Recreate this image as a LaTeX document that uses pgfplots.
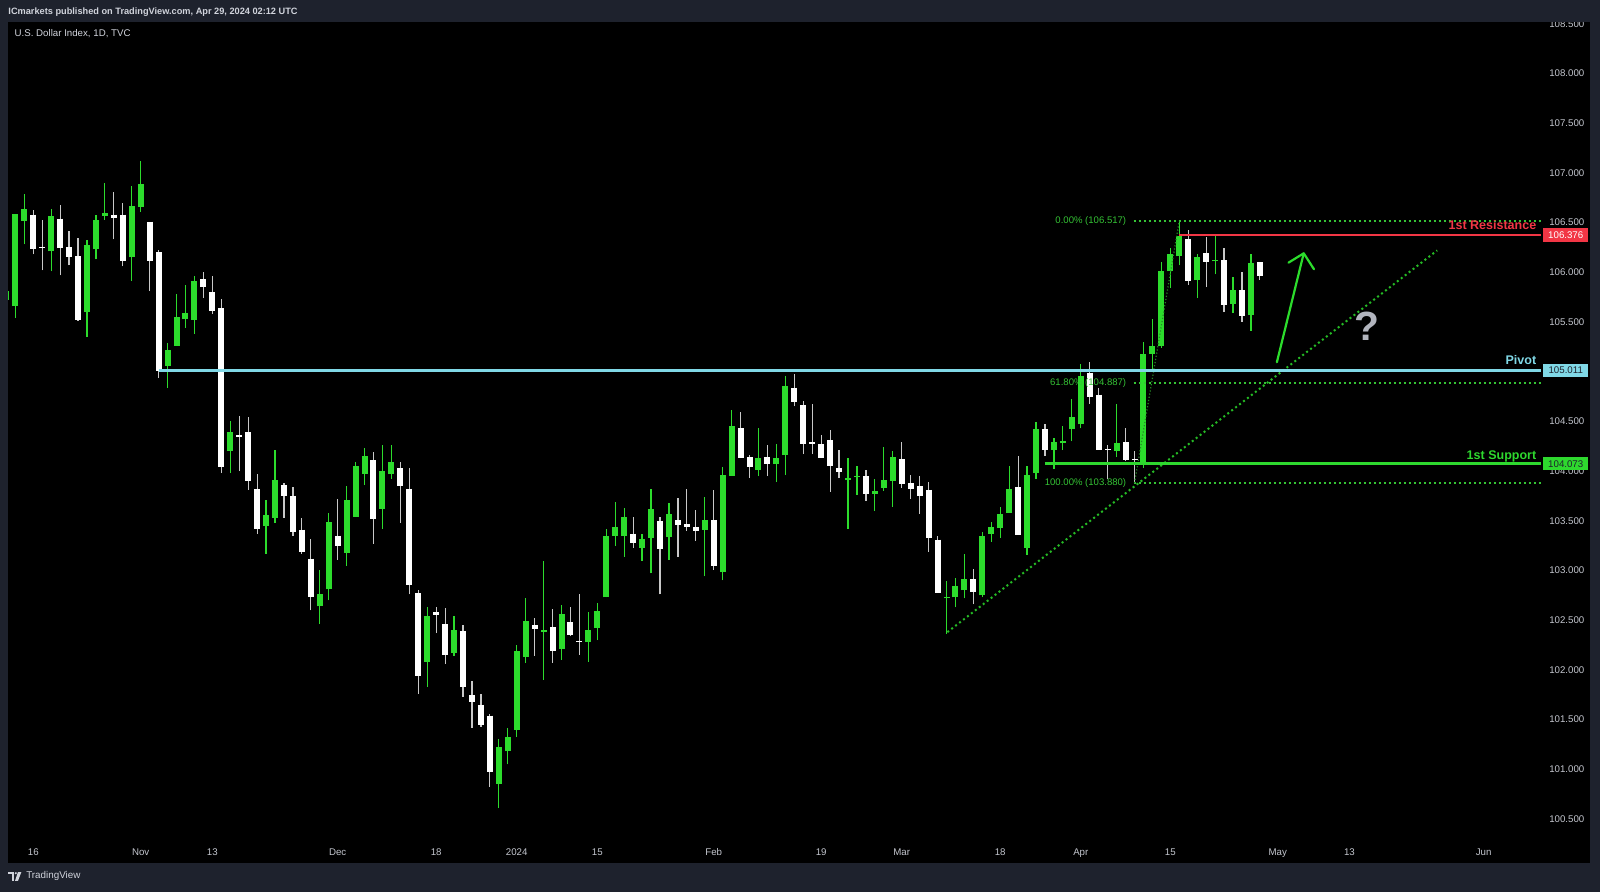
\documentclass[border=0pt]{standalone}
\usepackage{fontspec}
\setmainfont{Liberation Sans}
\usepackage{pgfplots}
\usepackage{pgfplotstable}
\pgfplotsset{compat=1.18}
\definecolor{frame}{HTML}{1E222D}
\definecolor{upc}{HTML}{2CDC2C}
\definecolor{dnc}{HTML}{FFFFFF}
\definecolor{dnwick}{HTML}{C8C8C8}
\definecolor{txt}{HTML}{D1D4DC}
\definecolor{axtxt}{HTML}{C3C6CE}
\definecolor{pivotc}{HTML}{80D8E6}
\definecolor{resc}{HTML}{F23645}
\definecolor{supc}{HTML}{2ED82E}
\definecolor{fibc}{HTML}{35C335}
\definecolor{qmark}{HTML}{B2B5BE}
\tikzset{dotline/.style={line width=0.5mm, dash pattern=on 0.5mm off 0.75mm}}

% daily candles, x = trading day (0 = 16 Oct 2023)
\pgfplotstableread{
i o h l c
-3 105.72 105.85 105.70 105.81
-2 105.66 106.59 105.54 106.59
-1 106.52 106.79 106.28 106.64
2 106.21 106.64 106.01 106.57
6 105.60 106.32 105.35 106.27
7 106.23 106.58 106.13 106.53
8 106.57 106.90 106.53 106.60
11 106.15 106.87 105.91 106.67
12 106.66 107.12 106.61 106.89
15 105.06 105.29 104.84 105.22
16 105.26 105.78 105.26 105.55
17 105.53 105.87 105.44 105.59
18 105.52 105.96 105.38 105.91
22 104.20 104.50 103.98 104.39
26 103.45 103.71 103.17 103.56
27 103.53 104.21 103.48 103.91
32 102.64 103.01 102.46 102.76
33 102.81 103.58 102.70 103.49
35 103.18 103.85 103.05 103.71
36 103.54 104.09 103.54 104.05
37 103.97 104.23 103.86 104.15
39 103.62 104.26 103.42 104.00
40 103.97 104.26 103.92 104.09
44 102.08 102.63 101.83 102.54
47 102.17 102.54 102.14 102.40
52 100.85 101.30 100.61 101.22
53 101.18 101.42 101.05 101.33
54 101.40 102.25 101.33 102.19
55 102.13 102.72 102.07 102.49
57 102.38 103.10 101.90 102.40
59 102.21 102.65 102.10 102.56
62 102.28 102.58 102.08 102.40
63 102.42 102.67 102.30 102.59
64 102.73 103.42 102.73 103.35
65 103.35 103.69 103.25 103.44
66 103.35 103.63 103.14 103.54
68 103.23 103.37 103.10 103.32
69 103.33 103.82 102.97 103.62
71 103.34 103.68 103.11 103.57
75 103.41 103.74 102.94 103.51
77 102.98 104.04 102.90 103.96
78 103.95 104.61 103.95 104.45
81 104.01 104.43 103.95 104.13
83 104.07 104.27 103.89 104.13
84 104.16 104.96 103.96 104.86
91 103.91 104.13 103.42 103.93
92 103.94 104.05 103.76 103.95
94 103.77 103.92 103.60 103.80
95 103.83 104.24 103.80 103.91
96 103.90 104.20 103.64 104.14
102 102.72 102.89 102.36 102.73
103 102.73 102.92 102.63 102.84
104 102.80 103.17 102.72 102.91
106 102.75 103.39 102.73 103.35
107 103.37 103.49 103.29 103.44
108 103.43 103.64 103.33 103.57
109 103.58 104.05 103.58 103.82
111 103.23 104.05 103.16 103.96
112 103.98 104.49 103.92 104.42
114 104.21 104.33 104.02 104.29
115 104.28 104.45 104.21 104.30
116 104.42 104.73 104.30 104.54
117 104.47 105.08 104.43 104.96
121 104.20 104.68 104.14 104.28
124 104.08 105.30 104.03 105.18
125 105.18 105.53 105.03 105.26
126 105.26 106.10 105.24 106.01
127 106.01 106.24 105.84 106.18
128 106.16 106.52 106.07 106.37
130 105.92 106.18 105.74 106.15
132 106.11 106.39 105.98 106.12
134 105.68 105.95 105.59 105.82
136 105.57 106.18 105.41 106.09
}\upcandles

\pgfplotstableread{
i o h l c
0 106.58 106.63 106.18 106.23
1 106.25 106.53 106.02 106.24
3 106.54 106.68 105.97 106.24
4 106.25 106.42 106.07 106.15
5 106.16 106.34 105.51 105.52
9 106.58 106.81 106.33 106.55
10 106.58 106.70 106.06 106.11
13 106.51 106.51 105.81 106.11
14 106.20 106.22 104.94 105.01
19 105.93 106.00 105.74 105.85
20 105.80 105.96 105.58 105.61
21 105.64 105.73 103.98 104.04
23 104.36 104.55 104.00 104.34
24 104.39 104.54 103.81 103.90
25 103.82 103.97 103.37 103.42
28 103.86 103.88 103.53 103.75
29 103.75 103.84 103.35 103.39
30 103.41 103.53 103.17 103.19
31 103.12 103.32 102.60 102.73
34 103.35 103.72 103.11 103.25
38 104.11 104.19 103.27 103.52
41 104.03 104.09 103.48 103.85
42 103.82 104.03 102.76 102.85
43 102.77 102.80 101.76 101.94
45 102.58 102.63 102.37 102.55
46 102.46 102.62 102.06 102.15
48 102.39 102.45 101.73 101.83
49 101.75 101.89 101.42 101.68
50 101.65 101.76 101.43 101.45
51 101.54 101.56 100.82 100.97
56 102.45 102.52 102.14 102.41
58 102.43 102.61 102.07 102.19
60 102.48 102.63 102.34 102.35
61 102.29 102.76 102.15 102.28
67 103.37 103.54 103.23 103.28
70 103.50 103.54 102.76 103.22
72 103.51 103.73 103.14 103.46
73 103.47 103.82 103.40 103.44
74 103.44 103.61 103.30 103.40
76 103.51 103.81 103.01 103.05
79 104.43 104.59 104.13 104.13
80 104.14 104.16 103.93 104.04
82 104.14 104.26 103.95 104.07
85 104.84 104.98 104.65 104.70
86 104.66 104.71 104.17 104.27
87 104.29 104.68 104.17 104.27
88 104.27 104.36 104.13 104.13
89 104.31 104.41 103.79 104.05
90 104.03 104.21 103.93 103.99
93 103.95 104.01 103.70 103.77
97 104.12 104.29 103.83 103.87
98 103.88 103.96 103.72 103.82
99 103.85 103.95 103.57 103.75
100 103.81 103.89 103.19 103.33
101 103.31 103.35 102.78 102.77
105 102.91 103.02 102.66 102.78
110 103.84 104.15 103.37 103.36
113 104.42 104.47 104.15 104.21
118 104.99 105.10 104.68 104.75
119 104.77 104.84 104.22 104.21
120 104.22 104.26 103.92 104.21
122 104.29 104.43 104.10 104.11
123 104.12 104.20 103.88 104.11
129 106.33 106.43 105.87 105.91
131 106.19 106.35 105.85 106.10
133 106.12 106.24 105.60 105.67
135 105.82 106.00 105.50 105.56
137 106.10 106.10 105.92 105.96
}\dncandles

\begin{document}
\begin{tikzpicture}
\fill[frame] (0,0) rectangle (400mm,223mm);
\fill[black] (2.05mm,7.25mm) rectangle (397.5mm,217.5mm);
\begin{axis}[
  at={(2.05mm,13.5mm)}, anchor=south west,
  width=383.2mm, height=203.9mm, scale only axis,
  xmin=-2.8, xmax=168.4, ymin=100.309, ymax=108.514,
  axis line style={draw=none},
  major tick length=0pt,
  clip mode=individual,
  xtick={0,12,20,34,45,54,63,76,88,97,108,117,127,139,147,162},
  xticklabels={16,Nov,13,Dec,18,2024,15,Feb,19,Mar,18,Apr,15,May,13,Jun},
  xticklabel style={anchor=base, inner sep=0pt, yshift=-4.25mm,
    text=axtxt, font=\fontsize{6.9pt}{8pt}\selectfont},
  ytick={100.5,101,101.5,102,102.5,103,103.5,104,104.5,105,105.5,106,106.5,107,107.5,108,108.5},
  yticklabel pos=right,
  yticklabel style={anchor=west, inner sep=0pt, xshift=2mm,
    text=axtxt, font=\fontsize{6.9pt}{8pt}\selectfont},
  /pgf/number format/fixed,
  /pgf/number format/fixed zerofill,
  /pgf/number format/precision=3,
  /pgf/number format/assume math mode=true,
]
% wicks
\addplot[draw=upc, line width=0.3mm, quiver={u=0, v=\thisrow{h}-\thisrow{l}}]
  table[x=i, y=l] {\upcandles};
\addplot[draw=dnwick, line width=0.3mm, quiver={u=0, v=\thisrow{h}-\thisrow{l}}]
  table[x=i, y=l] {\dncandles};
% bodies
\addplot[draw=upc, line width=1.5mm, quiver={u=0, v=\thisrow{c}-\thisrow{o}}]
  table[x=i, y=o] {\upcandles};
\addplot[draw=dnc, line width=1.5mm, quiver={u=0, v=\thisrow{c}-\thisrow{o}}]
  table[x=i, y=o] {\dncandles};

% fibonacci retracement
\draw[fibc, dotline] (axis cs:122.9,106.517) -- (axis cs:168.4,106.517);
\draw[fibc, dotline] (axis cs:122.9,104.887) -- (axis cs:168.4,104.887);
\draw[fibc, dotline] (axis cs:122.9,103.880) -- (axis cs:168.4,103.880);
\draw[fibc!70!black, line width=0.3mm, dash pattern=on 0.3mm off 0.5mm]
  (axis cs:123,103.88) -- (axis cs:128,106.517);
\begin{scope}[every node/.style={anchor=east, inner sep=0pt, text=fibc,
    font=\fontsize{6.8pt}{8pt}\selectfont}]
\node at (axis cs:122.1,106.517) {0.00\% (106.517)};
\node at (axis cs:122.1,104.887) {61.80\% (104.887)};
\node at (axis cs:122.1,103.880) {100.00\% (103.880)};
\end{scope}

% trend line
\draw[upc!85!black, dotline] (axis cs:102.1,102.38) -- (axis cs:156.8,106.22);

% levels
\draw[pivotc, line width=0.7mm] (axis cs:14,105.011) -- (axis cs:168.4,105.011);
\draw[resc, line width=0.7mm] (axis cs:128,106.376) -- (axis cs:168.4,106.376);
\draw[supc, line width=0.7mm] (axis cs:113,104.073) -- (axis cs:168.4,104.073);
\begin{scope}[every node/.style={anchor=base east, inner sep=0pt,
    font=\fontsize{8.9pt}{10pt}\selectfont\bfseries}]
\node[text=pivotc] at (axis cs:167.9,105.07) {Pivot};
\node[text=resc] at (axis cs:167.9,106.43) {1st Resistance};
\node[text=supc] at (axis cs:167.9,104.12) {1st Support};
\end{scope}

% arrow and question mark
\draw[upc, line width=0.55mm, line cap=round, line join=round]
  (axis cs:138.9,105.095) -- (axis cs:141.9,106.191);
\draw[upc, line width=0.55mm, line cap=round, line join=round]
  (axis cs:140.2,106.097) -- (axis cs:141.9,106.191) -- (axis cs:143.05,106.030);
\node[text=qmark, font=\fontsize{29pt}{31pt}\selectfont\bfseries]
  at (axis cs:149,105.46) {?};

\coordinate (rbox) at (axis cs:168.62,106.376);
\coordinate (pbox) at (axis cs:168.62,105.011);
\coordinate (sbox) at (axis cs:168.62,104.073);
\end{axis}
\fill[frame] (0,217.5mm) rectangle (400mm,223mm);
\begin{scope}[every node/.style={anchor=west, inner sep=0pt,
    minimum width=11.25mm, minimum height=3.3mm,
    font=\fontsize{6.9pt}{8pt}\selectfont}]
\node[fill=resc, text=white] at (rbox) {106.376};
\node[fill=pivotc, text=frame] at (pbox) {105.011};
\node[fill=supc, text=frame] at (sbox) {104.073};
\end{scope}
% header and title
\node[anchor=west, inner sep=0pt, text=txt, font=\fontsize{6.55pt}{8pt}\selectfont\bfseries]
  at (2.05mm,219.95mm) {ICmarkets published on TradingView.com, Apr 29, 2024 02:12 UTC};
\node[anchor=west, inner sep=0pt, text=txt, font=\fontsize{6.9pt}{8pt}\selectfont]
  at (3.6mm,214.6mm) {U.S. Dollar Index, 1D, TVC};
% footer logo
\fill[txt] (2.1mm,4.45mm) rectangle (3.45mm,5.0mm);
\fill[txt] (2.9mm,2.8mm) rectangle (3.45mm,5.0mm);
\fill[txt] (3.95mm,4.7mm) circle (0.3mm);
\fill[txt] (4.5mm,5.0mm) -- (5.35mm,5.0mm) -- (4.5mm,2.8mm) -- (3.75mm,2.8mm) -- cycle;
\node[anchor=west, inner sep=0pt, text=txt, font=\fontsize{7pt}{8pt}\selectfont]
  at (6.5mm,3.9mm) {TradingView};
\end{tikzpicture}
\end{document}
